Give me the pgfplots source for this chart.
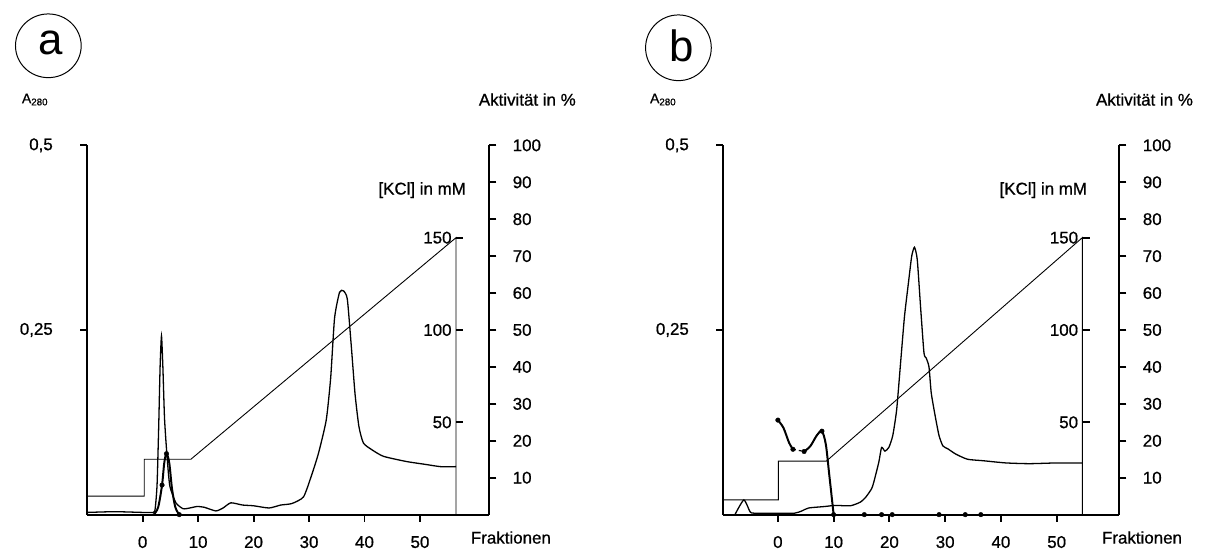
\documentclass[border=0pt]{standalone}
\usepackage{pgfplots}
\pgfplotsset{compat=1.18}
\usepackage{fontspec}
\setmainfont{Liberation Sans}
\newfontfamily\lblfont{Liberation Sans}[FakeBold=0.8]
\begin{document}
\newcommand{\lab}{\lblfont\fontsize{17}{19}\selectfont}
\pgfplotsset{
  every axis/.append style={
    scale only axis, height=371pt,
    /pgf/number format/assume math mode=true,
    tick label style={font=\lab},
    major tick length=7pt,
    every tick/.style={black, line width=2pt},
    axis line style={line width=2pt},
    clip=false,
  },
  aread/.style={line width=1.3pt, smooth, tension=0.35},
  actline/.style={line width=2pt, smooth, tension=0.5},
  kcl/.style={line width=0.9pt},
}
\begin{tikzpicture}
\useasboundingbox (0pt,0pt) rectangle (1210pt,555pt);

% ================= Panel a =================
% A280 axis
\begin{axis}[at={(82pt,38pt)}, anchor=south west, width=404pt,
  xmin=-10, xmax=62.5, ymin=0, ymax=0.5,
  axis x line=bottom, axis y line=left, axis line style={-},
  xtick={0,10,20,30,40,50}, tick align=outside,
  xticklabel style={yshift=-11pt},
  ytick={0.25,0.5}, yticklabels={{0,25},{0,5}},
  yticklabel style={xshift=-24pt}]
\addplot[aread] coordinates {
(-10,0.003) (-5,0.004) (0,0.003) (1.5,0.003) (2.2,0.005) (2.6,0.04) (2.9,0.12)
(3.15,0.2) (3.4,0.242) (3.65,0.2) (3.95,0.13) (4.4,0.079) (4.9,0.039) (6.0,0.016)
(7.3,0.008) (8.5,0.009) (9.8,0.011) (11.1,0.01) (13.2,0.005) (14.5,0.009)
(15.9,0.016) (18,0.013) (20,0.012) (22.8,0.009) (24.9,0.013) (26.9,0.015)
(29,0.024) (30.4,0.052) (31.7,0.083) (33.1,0.128) (33.9,0.185) (34.6,0.266)
(35.5,0.301) (36.2,0.303) (36.9,0.292) (37.6,0.23) (38.3,0.163) (39,0.119)
(39.8,0.097) (41.3,0.088) (43.4,0.079) (47.5,0.072) (51,0.068) (53.7,0.065)
(56.5,0.065)};
\end{axis}
% Activity axis
\begin{axis}[at={(82pt,38pt)}, anchor=south west, width=404pt,
  xmin=-10, xmax=62.5, ymin=0, ymax=100,
  axis x line=none, axis y line=right, axis line style={-},
  ytick={10,20,...,100}, tick align=outside,
  yticklabel style={xshift=13pt}]
\addplot[actline] coordinates {
(2.0,0) (2.8,2) (3.5,8) (3.9,14) (4.3,16.5) (4.8,14) (5.3,7) (5.9,2) (6.6,0)};
\addplot[only marks, mark=*, mark size=2.3pt] coordinates {(3.5,8) (4.3,16.5) (6.6,0)};
\end{axis}
% KCl gradient
\begin{axis}[at={(82pt,38pt)}, anchor=south west, width=404pt,
  xmin=-10, xmax=62.5, ymin=0, ymax=200, hide axis]
\addplot[kcl] coordinates {(-10,10) (0.3,10) (0.3,30) (8.7,30) (56.5,150) (56.5,0)};
\end{axis}
% KCl ticks
\begin{axis}[at={(452.6pt,38pt)}, anchor=south west, width=20pt,
  xmin=0, xmax=1, ymin=0, ymax=200,
  axis x line=none, axis y line=left, axis line style={draw=none},
  ytick={50,100,150}, tick align=inside,
  yticklabel style={xshift=-1pt}]
\end{axis}

% ================= Panel b =================
\begin{axis}[at={(721pt,38pt)}, anchor=south west, width=398pt,
  xmin=-9.8, xmax=61.25, ymin=0, ymax=0.5,
  axis x line=bottom, axis y line=left, axis line style={-},
  xtick={0,10,20,30,40,50}, tick align=outside,
  xticklabel style={yshift=-11pt},
  ytick={0.25,0.5}, yticklabels={{0,25},{0,5}},
  yticklabel style={xshift=-24pt}]
\addplot[aread] coordinates {
(-7.7,0) (-6.1,0.02) (-5,0.004) (-4.3,0.002) (0,0.002) (3,0.002) (4.3,0.005)
(5.5,0.009) (8.4,0.011) (10.3,0.0125) (13,0.012) (14.8,0.017) (15.8,0.024)
(16.8,0.035) (17.2,0.044) (18.1,0.071) (18.6,0.091) (19.2,0.086) (19.9,0.091)
(20.6,0.107) (21.3,0.142) (22,0.205) (22.7,0.268) (23.4,0.313) (24,0.35)
(24.5,0.362) (25,0.345) (25.6,0.28) (26.2,0.219) (26.6,0.212) (27.1,0.2)
(27.5,0.165) (28.2,0.134) (28.9,0.107) (29.6,0.093) (30.5,0.089) (31.9,0.082)
(34,0.075) (36.8,0.073) (40.9,0.07) (45.1,0.069) (50,0.07) (54.6,0.07)};
\end{axis}
\begin{axis}[at={(721pt,38pt)}, anchor=south west, width=398pt,
  xmin=-9.8, xmax=61.25, ymin=0, ymax=100,
  axis x line=none, axis y line=right, axis line style={-},
  ytick={10,20,...,100}, tick align=outside,
  yticklabel style={xshift=13pt}]
\addplot[actline] coordinates {(0,25.6) (1,23.5) (2,19.5) (2.7,17.7)};
\addplot[line width=1.2pt, dashed] coordinates {(2.7,17.7) (4.7,17.1)};
\addplot[actline] coordinates {(4.7,17.1) (5.8,18.5) (7,21.5) (7.9,22.6) (8.6,19) (9.2,11) (10,0)};
\addplot[line width=1pt] coordinates {(10,0) (36.4,0)};
\addplot[only marks, mark=*, mark size=2.3pt] coordinates {
(0,25.6) (2.7,17.7) (4.7,17.1) (7.9,22.6) (10,0) (15.5,0) (18.6,0) (20.5,0)
(28.9,0) (33.6,0) (36.4,0)};
\end{axis}
\begin{axis}[at={(721pt,38pt)}, anchor=south west, width=398pt,
  xmin=-9.8, xmax=61.25, ymin=0, ymax=200, hide axis]
\addplot[kcl] coordinates {(-9.8,8) (0.1,8) (0.1,29) (8.7,29) (54.6,150) (54.6,0)};
\end{axis}
\begin{axis}[at={(1082pt,38pt)}, anchor=south west, width=20pt,
  xmin=0, xmax=1, ymin=0, ymax=200,
  axis x line=none, axis y line=left, axis line style={draw=none},
  ytick={50,100,150}, tick align=inside,
  yticklabel style={xshift=-1pt}]
\end{axis}

% ================= Texts =================
\draw[line width=1pt] (43pt,509pt) ellipse (33pt and 32pt);
\node at (45pt,512pt) {\fontsize{44}{44}\selectfont a};
\draw[line width=1pt] (676pt,507pt) ellipse (33pt and 33pt);
\node at (679pt,509pt) {\fontsize{44}{44}\selectfont b};
\node[anchor=west, font=\lblfont\fontsize{14}{16}\selectfont] at (13pt,455pt) {A\textsubscript{280}};
\node[anchor=west, font=\lblfont\fontsize{14}{16}\selectfont] at (644pt,455pt) {A\textsubscript{280}};
\node[anchor=west, font=\lab] at (472pt,455pt) {Aktivität in \%};
\node[anchor=west, font=\lab] at (1092pt,455pt) {Aktivität in \%};
\node[anchor=east, font=\lab] at (466pt,364pt) {[KCl] in mM};
\node[anchor=east, font=\lab] at (1090pt,364pt) {[KCl] in mM};
\node[anchor=west, font=\lab] at (464pt,15pt) {Fraktionen};
\node[anchor=west, font=\lab] at (1098pt,15pt) {Fraktionen};
\end{tikzpicture}
\end{document}
